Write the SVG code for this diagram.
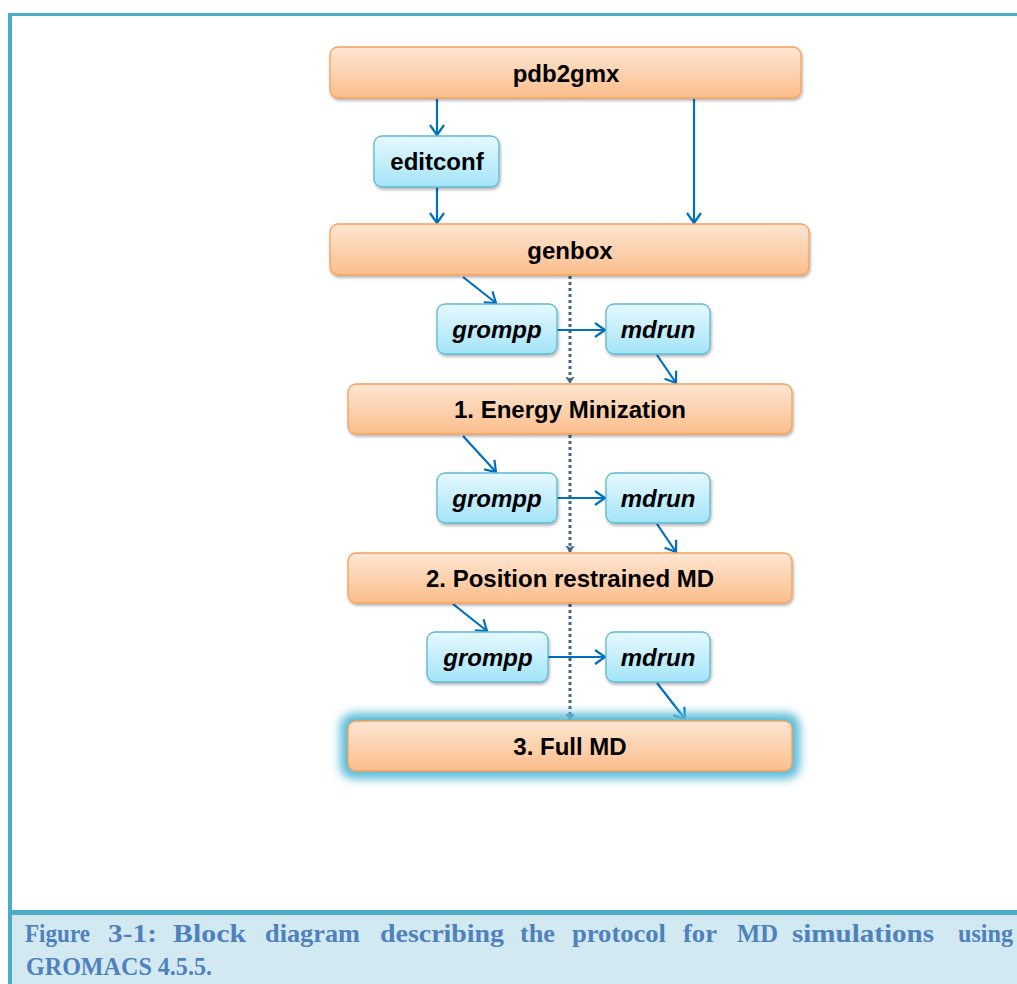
<svg xmlns="http://www.w3.org/2000/svg" width="1017" height="984" viewBox="0 0 1017 984">
<defs>
<linearGradient id="gOr" x1="0" y1="0" x2="0" y2="1">
<stop offset="0" stop-color="#fee6d3"/>
<stop offset="1" stop-color="#fbbe8c"/>
</linearGradient>
<linearGradient id="gBl" x1="0" y1="0" x2="0" y2="1">
<stop offset="0" stop-color="#e6f9fe"/>
<stop offset="1" stop-color="#a3e4f8"/>
</linearGradient>
<filter id="sh" x="-10%" y="-20%" width="120%" height="150%">
<feDropShadow dx="1" dy="2" stdDeviation="1.5" flood-color="#000" flood-opacity="0.3"/>
</filter>
<filter id="glow" x="-20%" y="-60%" width="140%" height="220%">
<feGaussianBlur stdDeviation="5"/>
</filter>
<marker id="ah" markerUnits="userSpaceOnUse" markerWidth="24" markerHeight="24" viewBox="-12 -12 24 24" refX="0" refY="0" orient="auto">
<path d="M-10,-7 L0,0 L-10,7" fill="none" stroke="#0070c0" stroke-width="2.2"/>
</marker>
<marker id="dh" markerUnits="userSpaceOnUse" markerWidth="12" markerHeight="12" viewBox="-6 -6 12 12" refX="0" refY="0" orient="auto">
<path d="M-6,-4 L0,0 L-6,4 L-4,0 Z" fill="#44648f" stroke="#44648f" stroke-width="1"/>
</marker>
</defs>
<style>
.or{fill:url(#gOr);stroke:#f5a05a;stroke-width:1.3;filter:url(#sh)}
.bl{fill:url(#gBl);stroke:#5fb8d2;stroke-width:1.3;filter:url(#sh)}
.t{font-family:"Liberation Sans",Arial,sans-serif;font-weight:bold;font-size:24px;fill:#000;text-anchor:middle}
.ti{font-style:italic}
.ar{fill:none;stroke:#0070c0;stroke-width:2.2;marker-end:url(#ah)}
.dt{fill:none;stroke:#44648f;stroke-width:3;stroke-dasharray:3 3;marker-end:url(#dh)}
.cap{font-family:"Liberation Serif","Times New Roman",serif;font-weight:bold;font-size:26px;fill:#4f81bd}
</style>
<rect x="0" y="0" width="1017" height="984" fill="#fff"/>
<rect x="12" y="915" width="1005" height="69" fill="#d2e9f2"/>
<rect x="8" y="13" width="1009" height="3" fill="#4bacc6"/>
<rect x="8" y="13" width="4" height="971" fill="#4bacc6"/>
<rect x="12" y="910" width="1005" height="5" fill="#4bacc6"/>

<g id="connectors">
<line class="ar" x1="437" y1="99" x2="437" y2="135"/>
<line class="ar" x1="437" y1="188" x2="437" y2="223"/>
<line class="ar" x1="694" y1="99" x2="694" y2="223"/>
<line class="dt" x1="570" y1="276" x2="570" y2="383"/>
<line class="dt" x1="570" y1="435" x2="570" y2="552"/>
<line class="dt" x1="570" y1="604" x2="570" y2="720"/>
<line class="ar" x1="463" y1="277" x2="496" y2="303"/>
<line class="ar" x1="557" y1="330" x2="605" y2="330"/>
<line class="ar" x1="657" y1="355" x2="676" y2="383"/>
<line class="ar" x1="463" y1="436" x2="496" y2="472"/>
<line class="ar" x1="557" y1="498" x2="605" y2="498"/>
<line class="ar" x1="657" y1="524" x2="676" y2="552"/>
<line class="ar" x1="453" y1="604" x2="487" y2="631"/>
<line class="ar" x1="548" y1="657" x2="605" y2="657"/>
<line class="ar" x1="657" y1="683" x2="685" y2="719"/>
</g>

<g id="pdb2gmx"><rect class="or" x="330" y="47" width="471" height="51" rx="8"/><text class="t" x="566" y="82">pdb2gmx</text></g>
<g id="editconf"><rect class="bl" x="374" y="136" width="125" height="51" rx="8"/><text class="t" x="437" y="170">editconf</text></g>
<g id="genbox"><rect class="or" x="330" y="224" width="479" height="51" rx="8"/><text class="t" x="570" y="259">genbox</text></g>
<g id="grompp1"><rect class="bl" x="437" y="304" width="120" height="50" rx="8"/><text class="t ti" x="497" y="338">grompp</text></g>
<g id="mdrun1"><rect class="bl" x="606" y="304" width="104" height="50" rx="8"/><text class="t ti" x="658" y="338">mdrun</text></g>
<g id="em"><rect class="or" x="348" y="384" width="444" height="50" rx="8"/><text class="t" x="570" y="418">1. Energy Minization</text></g>
<g id="grompp2"><rect class="bl" x="437" y="473" width="120" height="50" rx="8"/><text class="t ti" x="497" y="507">grompp</text></g>
<g id="mdrun2"><rect class="bl" x="606" y="473" width="104" height="50" rx="8"/><text class="t ti" x="658" y="507">mdrun</text></g>
<g id="pr"><rect class="or" x="348" y="553" width="444" height="50" rx="8"/><text class="t" x="570" y="587">2. Position restrained MD</text></g>
<g id="grompp3"><rect class="bl" x="427" y="632" width="121" height="50" rx="8"/><text class="t ti" x="488" y="666">grompp</text></g>
<g id="mdrun3"><rect class="bl" x="606" y="632" width="104" height="50" rx="8"/><text class="t ti" x="658" y="666">mdrun</text></g>
<g id="fullmd">
<rect x="340" y="713" width="460" height="66" rx="14" fill="#5dbcd8" filter="url(#glow)"/>
<rect class="or" x="348" y="721" width="444" height="50" rx="8" style="filter:none"/>
<text class="t" x="570" y="755">3. Full MD</text>
</g>

<g id="caption">
<text class="cap" x="25" y="942" textLength="65" lengthAdjust="spacingAndGlyphs">Figure</text>
<text class="cap" x="108" y="942" textLength="49" lengthAdjust="spacingAndGlyphs">3-1:</text>
<text class="cap" x="173" y="942" textLength="73" lengthAdjust="spacingAndGlyphs">Block</text>
<text class="cap" x="265" y="942" textLength="95" lengthAdjust="spacingAndGlyphs">diagram</text>
<text class="cap" x="380" y="942" textLength="124" lengthAdjust="spacingAndGlyphs">describing</text>
<text class="cap" x="520" y="942" textLength="35" lengthAdjust="spacingAndGlyphs">the</text>
<text class="cap" x="572" y="942" textLength="94" lengthAdjust="spacingAndGlyphs">protocol</text>
<text class="cap" x="683" y="942" textLength="34" lengthAdjust="spacingAndGlyphs">for</text>
<text class="cap" x="737" y="942" textLength="41" lengthAdjust="spacingAndGlyphs">MD</text>
<text class="cap" x="792" y="942" textLength="142" lengthAdjust="spacingAndGlyphs">simulations</text>
<text class="cap" x="958" y="942" textLength="55" lengthAdjust="spacingAndGlyphs">using</text>
<text class="cap" x="26" y="975" textLength="186" lengthAdjust="spacingAndGlyphs">GROMACS 4.5.5.</text>
</g>
</svg>
